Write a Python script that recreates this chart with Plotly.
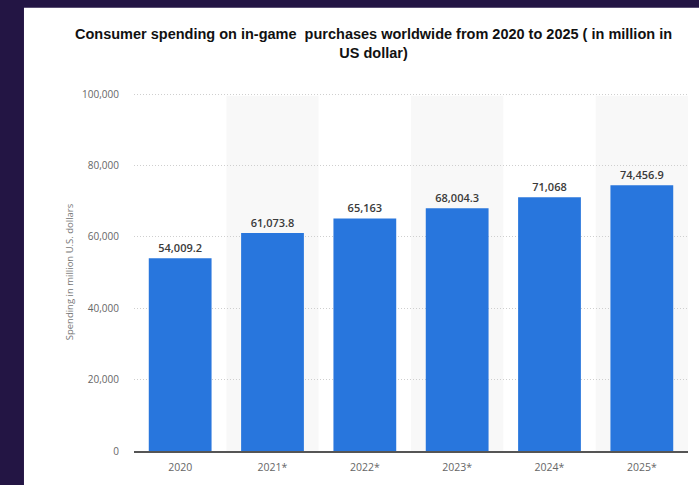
import plotly.graph_objects as go

years = ["2020", "2021*", "2022*", "2023*", "2024*", "2025*"]
spending = [54009.2, 61073.8, 65163, 68004.3, 71068, 74456.9]
labels = ["54,009.2", "61,073.8", "65,163", "68,004.3", "71,068", "74,456.9"]
y_ticks = [0, 20000, 40000, 60000, 80000, 100000]
y_tick_text = ["0", "20,000", "40,000", "60,000", "80,000", "100,000"]

title_text = ("Consumer spending on in-game  purchases worldwide from 2020 to 2025 ( in million in"
              "<br>US dollar)")

fig = go.Figure()
fig.add_trace(go.Bar(
    x=list(range(len(years))), y=spending,
    marker=dict(color="#2876dd", line=dict(width=0)),
    width=0.68,
    text=labels, textposition="outside",
    textfont=dict(family="Open Sans, DejaVu Sans", size=11, color="#3a3a3a", weight=600),
    cliponaxis=False,
    hoverinfo="skip",
))

shapes = []
# outer white panel
shapes.append(dict(type="rect", xref="paper", yref="paper",
                   x0=-0.1986, x1=1.1, y0=-0.2, y1=1.238,
                   fillcolor="white", line=dict(width=0), layer="below"))
# alternating column bands (translucent so the dotted grid shows through)
for i in range(len(years)):
    if i % 2 == 1:
        shapes.append(dict(type="rect", xref="x", yref="y",
                           x0=i - 0.5, x1=i + 0.5, y0=0, y1=99500,
                           fillcolor="rgba(0,0,0,0.028)", line=dict(width=0),
                           layer="below"))

fig.update_layout(
    width=699, height=485,
    margin=dict(l=134, r=11, t=93, b=34),
    paper_bgcolor="#231544",
    plot_bgcolor="rgba(0,0,0,0)",
    showlegend=False,
    shapes=shapes,
    font=dict(family="Open Sans, DejaVu Sans", color="#666666"),
    annotations=[dict(
        text="<b>" + title_text + "</b>",
        xref="paper", yref="paper", x=(373 - 134) / 554, y=(451 - 24) / 358,
        xanchor="center", yanchor="top", showarrow=False, align="center",
        font=dict(family="Liberation Sans, Arial", size=14.5, color="#111111"),
    )],
)

fig.update_xaxes(
    range=[-0.5, 5.5],
    tickmode="array", tickvals=list(range(len(years))), ticktext=years,
    tickfont=dict(size=10.5, color="#666666"),
    showgrid=False, zeroline=False,
    showline=True, linecolor="#555555", linewidth=1.5,
    ticks="", ticklabelstandoff=6,
    fixedrange=True,
)
fig.update_yaxes(
    range=[0, 100300],
    tickmode="array", tickvals=y_ticks, ticktext=y_tick_text,
    tickfont=dict(size=10, color="#666666"),
    showgrid=True, gridcolor="#cfcfcf", griddash="1px,2px", gridwidth=1,
    zeroline=False, showline=False,
    ticks="", ticklabelstandoff=14,
    title=dict(text="Spending in million U.S. dollars",
               font=dict(size=9.5, color="#777777"), standoff=6),
    fixedrange=True,
)

fig.write_html("out.html")
